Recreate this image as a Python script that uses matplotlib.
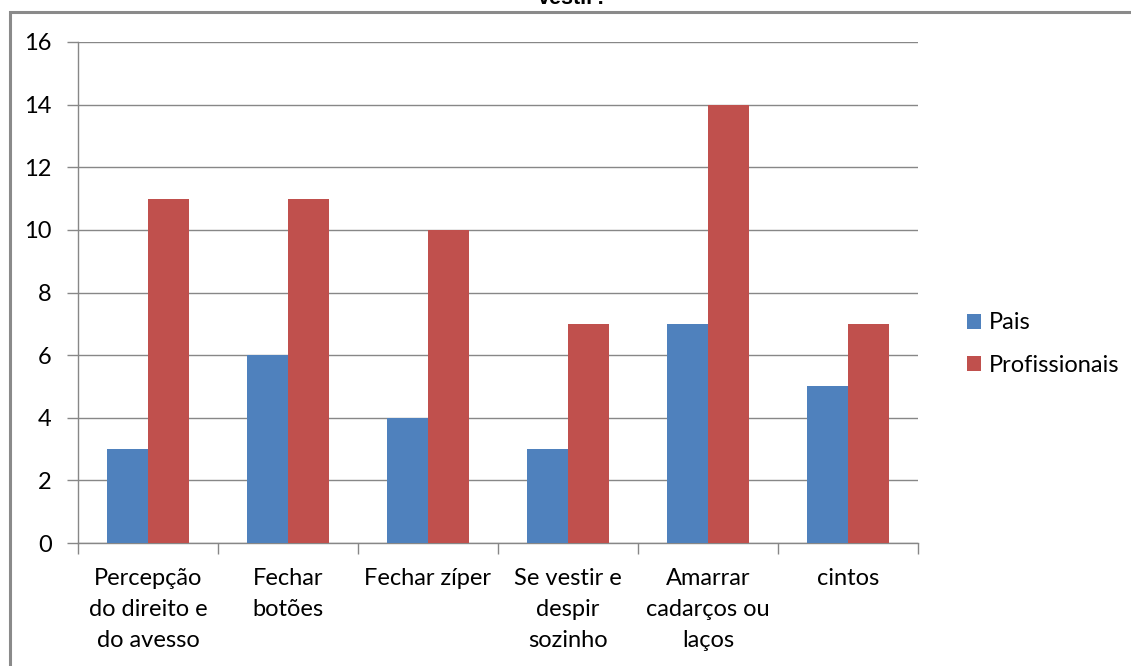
import matplotlib
matplotlib.use("Agg")
import matplotlib.pyplot as plt
import numpy as np
from matplotlib.patches import Rectangle

categories = ["Percepção\ndo direito e\ndo avesso", "Fechar\nbotões", "Fechar zíper",
              "Se vestir e\ndespir\nsozinho", "Amarrar\ncadarços ou\nlaços", "cintos"]
pais = [3, 6, 4, 3, 7, 5]
profissionais = [11, 11, 10, 7, 14, 7]
series_names = ["Pais", "Profissionais"]
yticks = [0, 2, 4, 6, 8, 10, 12, 14, 16]

plt.rcParams['font.family'] = ['Lato', 'DejaVu Sans']

W, H = 1131, 666
FS = 17
fig = plt.figure(figsize=(W / 100, H / 100), dpi=100)
ax = fig.add_axes([78 / W, 1 - 543 / H, (918 - 78) / W, (543 - 42) / H])

x = np.arange(len(categories))
bw = 0.29
blue = "#4F81BD"
red = "#C0504D"
ax.bar(x - bw / 2, pais, bw, color=blue, label=series_names[0], zorder=3)
ax.bar(x + bw / 2, profissionais, bw, color=red, label=series_names[1], zorder=3)

ax.set_xlim(-0.5, len(categories) - 0.5)
ax.set_ylim(0, 16)
ax.set_yticks(yticks)
ax.set_yticklabels([str(v) for v in yticks], fontsize=FS, color="#000000")
ax.yaxis.grid(True, color="#878787", linewidth=1, zorder=0)
ax.set_axisbelow(True)

ax.set_xticks(np.arange(len(categories) + 1) - 0.5)
ax.set_xticklabels([])
ax.set_xticks(x, minor=True)
ax.set_xticklabels(categories, minor=True, fontsize=FS, linespacing=1.6, va="top")
ax.tick_params(axis="x", which="minor", length=0, pad=18)
ax.tick_params(axis="x", which="major", length=8, color="#878787", width=1)
ax.tick_params(axis="y", length=8, color="#878787", width=1, pad=11)

for s in ["top", "right"]:
    ax.spines[s].set_visible(False)
for s in ["left", "bottom"]:
    ax.spines[s].set_color("#878787")
    ax.spines[s].set_linewidth(1)

leg = fig.legend(loc="center left", bbox_to_anchor=(955 / W, 1 - 344 / H), frameon=False,
                 fontsize=FS, handlelength=0.6, handleheight=0.6, handletextpad=0.35,
                 labelspacing=0.9, borderpad=0)

# outer chart frame
fig.patches.append(Rectangle((10 / W, -0.05), 1.2, 1 - 12 / H + 0.05, transform=fig.transFigure,
                             fill=False, edgecolor="#8a8a8a", linewidth=2.2, clip_on=False))

# title, partly above the frame
fig.text(573 / W, 1 - 4 / H, "vestir?", ha="center", va="baseline",
         fontsize=15.5, fontweight="bold", family=["Liberation Sans", "DejaVu Sans"])

fig.savefig("out.png", dpi=100, facecolor="white")
